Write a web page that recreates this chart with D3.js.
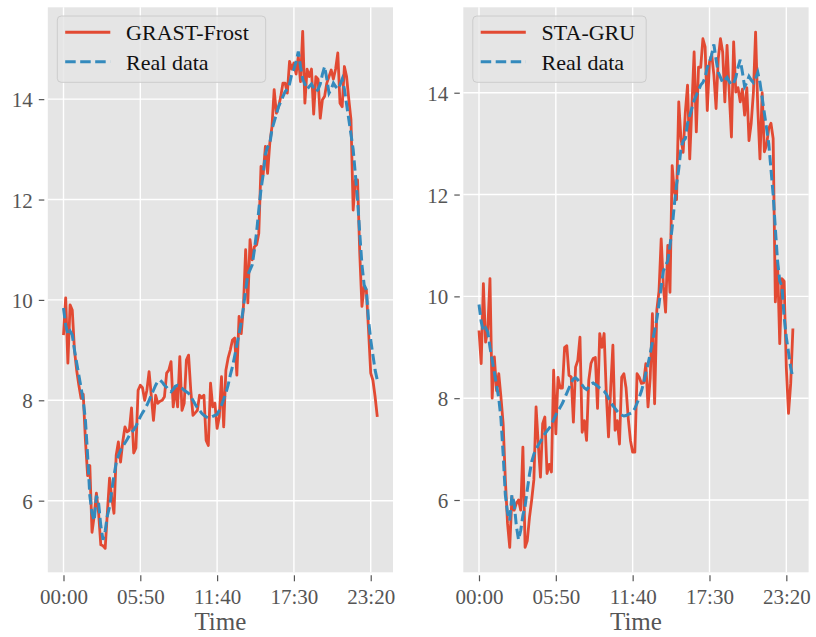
<!DOCTYPE html>
<html>
<head>
<meta charset="utf-8">
<script src="https://cdn.jsdelivr.net/npm/d3@7"></script>
<style>
  html, body { margin: 0; padding: 0; background: #ffffff; }
  svg { display: block; }
  text { font-family: "Liberation Serif", "DejaVu Serif", serif; }
</style>
</head>
<body>
<script>
// ---------- data (10-minute steps, index 0 = 00:00) ----------
const timeTickIndex = [0, 35, 70, 105, 140];
const timeTickLabels = ["00:00", "05:50", "11:40", "17:30", "23:20"];
const yTickValues = [6, 8, 10, 12, 14];

const realData = [
  9.84, 9.5, 9.32, 9.38, 9.3, 9.0, 8.75, 8.5, 8.25, 8.0,
  7.6, 6.9, 6.1, 5.75, 5.6, 6.1, 5.95, 5.5, 5.22, 5.4,
  5.7, 5.88, 6.2, 6.5, 6.75, 6.9, 7.0, 7.08, 7.15, 7.22,
  7.3, 7.36, 7.41, 7.48, 7.58, 7.67, 7.75, 7.82, 7.9, 8.0,
  8.1, 8.2, 8.3, 8.38, 8.4, 8.36, 8.3, 8.26, 8.2, 8.17,
  8.22, 8.28, 8.3, 8.27, 8.24, 8.2, 8.17, 8.14, 8.08, 8.0,
  7.92, 7.85, 7.8, 7.74, 7.7, 7.67, 7.65, 7.66, 7.68, 7.7,
  7.72, 7.8, 7.9, 8.02, 8.14, 8.3, 8.5, 8.67, 8.88, 9.1,
  9.33, 9.55, 9.85, 10.2, 10.5, 10.6, 10.7, 11.0, 11.35, 11.8,
  12.2, 12.5, 12.9, 13.05, 13.1, 13.4, 13.55, 13.7, 13.85, 13.95,
  14.05, 14.15, 14.2, 14.3, 14.5, 14.6, 14.75, 14.95, 14.65, 14.4,
  14.3, 14.2, 14.25, 14.3, 14.22, 14.15, 14.19, 14.3, 14.5, 14.65,
  14.4, 14.12, 14.2, 14.32, 14.25, 14.2, 14.28, 14.4, 14.2, 13.9,
  13.6, 13.3, 13.0, 12.5, 12.0, 11.33, 10.7, 10.3, 10.2, 9.6,
  9.2, 8.9, 8.6, 8.4
];

const grastFrost = [
  9.3, 10.04, 8.74, 9.9, 9.8, 9.0, 8.6, 8.3, 8.04, 8.12,
  7.2, 6.5, 6.7, 5.37, 5.7, 6.15, 5.75, 5.12, 5.1, 5.05,
  5.77, 6.45, 6.05, 5.75, 6.9, 7.17, 6.77, 7.17, 7.47, 7.37,
  7.4, 7.85, 6.95, 7.05, 8.2, 8.3, 8.25, 8.0, 8.2, 8.57,
  8.1, 7.6, 8.1, 7.94, 7.98, 8.0, 8.07, 8.54, 8.6, 8.77,
  7.87, 8.27, 7.87, 8.87, 7.8, 7.94, 8.8, 8.9, 8.2, 7.7,
  7.75, 7.8, 8.1, 8.05, 8.1, 7.2, 7.1, 8.34, 7.87, 7.94,
  7.44, 7.67, 8.47, 7.47, 8.6, 8.84, 9.0, 9.2, 9.24, 8.5,
  9.67, 9.33, 9.87, 11.0, 9.94, 11.2, 10.8, 11.06, 11.1, 11.33,
  12.66, 12.5, 13.06, 12.52, 13.12, 13.45, 14.19, 13.72, 13.85, 14.05,
  14.32, 14.32, 14.12, 14.75, 14.6, 14.72, 14.5, 14.85, 14.35, 15.35,
  13.92, 14.6, 14.45, 14.6, 13.7, 14.45, 14.4, 13.62, 13.99, 14.06,
  14.32, 14.45, 14.58, 14.4, 14.6, 14.92, 13.92, 13.85, 14.65, 14.45,
  14.0, 13.59, 11.79, 12.39, 12.39, 10.93, 9.87, 10.27, 10.2, 9.4,
  8.54, 8.4, 8.07, 7.67
];

const staGru = [
  9.33, 8.68, 10.25, 9.1, 9.35, 10.35, 8.0, 8.81, 8.15, 8.48,
  8.02, 7.5, 6.4, 5.54, 5.07, 6.06, 5.8, 5.93, 6.0, 5.8,
  7.04, 5.07, 5.2, 5.66, 6.0, 6.4, 7.83, 7.1, 6.45, 7.5,
  7.63, 6.52, 6.7, 6.55, 8.55, 7.3, 8.41, 8.2, 8.2, 9.0,
  9.03, 8.45, 8.42, 7.53, 8.61, 8.74, 9.2, 7.33, 7.56, 7.17,
  8.35, 8.68, 8.78, 8.8, 7.8, 9.27, 9.0, 9.27, 8.09, 7.24,
  8.2, 9.04, 7.37, 7.56, 7.1, 8.41, 8.48, 8.2, 7.6, 7.17,
  6.94, 6.94, 8.48, 8.41, 8.29, 8.3, 8.68, 7.83, 8.4, 9.66,
  7.89, 9.73, 10.1, 11.13, 10.2, 9.69, 11.0, 10.08, 12.57, 12.05,
  11.9, 13.82, 13.1, 12.83, 13.62, 14.15, 12.7, 13.75, 14.8, 13.23,
  14.5, 14.5, 15.06, 14.9, 13.65, 14.6, 14.75, 14.35, 13.69, 14.67,
  15.06, 14.8, 13.82, 14.93, 14.0, 13.13, 15.0, 14.01, 14.1, 13.82,
  14.07, 13.56, 14.1, 13.06, 13.4, 14.0, 15.19, 13.7, 12.7, 14.0,
  12.84, 12.97, 13.3, 13.4, 13.1, 9.89, 10.67, 9.07, 10.35, 10.3,
  8.6, 7.7, 8.29, 9.37
];

const modelNames = ["GRAST-Frost", "STA-GRU"];
const realLabel = "Real data";

// ---------- layout ----------
const W = 816, H = 637;
const plotTop = 7.3, plotBottom = 572.3;
const panels = [
  { name: modelNames[0], pred: grastFrost, xr: [47.8, 393.0], yd: [4.573, 15.83], legendW: 208.4 },
  { name: modelNames[1], pred: staGru,     xr: [463.3, 808.6], yd: [4.58, 15.678], legendW: 173.4 }
];
const RED = "#E24A33", BLUE = "#348ABD", BG = "#E5E5E5", TXT = "#555555";

const svg = d3.select("body").append("svg").attr("width", W).attr("height", H);
svg.append("rect").attr("width", W).attr("height", H).attr("fill", "#ffffff");

panels.forEach(p => {
  const x = d3.scaleLinear().domain([-7.15, 150.15]).range(p.xr);
  const y = d3.scaleLinear().domain(p.yd).range([plotBottom, plotTop]);
  const g = svg.append("g");
  const left = p.xr[0], right = p.xr[1];

  g.append("rect").attr("x", left).attr("y", plotTop)
    .attr("width", right - left).attr("height", plotBottom - plotTop).attr("fill", BG);

  // grid
  g.append("g").selectAll("line").data(timeTickIndex).join("line")
    .attr("x1", d => x(d)).attr("x2", d => x(d)).attr("y1", plotTop).attr("y2", plotBottom)
    .attr("stroke", "#ffffff").attr("stroke-width", 1.4);
  g.append("g").selectAll("line").data(yTickValues).join("line")
    .attr("x1", left).attr("x2", right).attr("y1", d => y(d)).attr("y2", d => y(d))
    .attr("stroke", "#ffffff").attr("stroke-width", 1.4);

  // lines
  const line = d3.line().x((d, i) => x(i)).y(d => y(d));
  g.append("path").datum(p.pred).attr("d", line).attr("fill", "none")
    .attr("stroke", RED).attr("stroke-width", 2.8).attr("stroke-linejoin", "round");
  g.append("path").datum(realData).attr("d", line).attr("fill", "none")
    .attr("stroke", BLUE).attr("stroke-width", 3).attr("stroke-dasharray", "10.5,4.5");

  // x axis
  const xAxis = d3.axisBottom(x).tickValues(timeTickIndex)
    .tickFormat((d, i) => timeTickLabels[i]).tickSize(6).tickPadding(7.8);
  const gx = g.append("g").attr("transform", `translate(0,${plotBottom + 3})`).call(xAxis);
  gx.select(".domain").remove();
  gx.selectAll("line").attr("stroke", TXT).attr("stroke-width", 1.2);
  gx.selectAll("text").attr("fill", TXT).style("font-size", "21px")
    .style("font-family", '"Liberation Serif", serif');

  // y axis
  const yAxis = d3.axisLeft(y).tickValues(yTickValues).tickSize(5.5).tickPadding(6);
  const gy = g.append("g").attr("transform", `translate(${left - 3.5},0)`).call(yAxis);
  gy.select(".domain").remove();
  gy.selectAll("line").attr("stroke", TXT).attr("stroke-width", 1.2);
  gy.selectAll("text").attr("fill", TXT).attr("dy", "0.36em").style("font-size", "21px")
    .style("font-family", '"Liberation Serif", serif');

  // x label
  g.append("text").attr("x", (left + right) / 2).attr("y", 630)
    .attr("text-anchor", "middle").attr("fill", TXT).style("font-size", "25px").text("Time");

  // legend
  const lg = g.append("g");
  lg.append("rect").attr("x", left + 9.5).attr("y", 16).attr("width", p.legendW).attr("height", 66.3)
    .attr("rx", 4).attr("fill", BG).attr("fill-opacity", 0.8)
    .attr("stroke", "#cccccc").attr("stroke-width", 1);
  const items = [
    { label: p.name, color: RED, dash: null, ly: 32.3 },
    { label: realLabel, color: BLUE, dash: "10.5,4.5", ly: 61.7 }
  ];
  items.forEach(it => {
    lg.append("line").attr("x1", left + 17.4).attr("x2", left + 62.5)
      .attr("y1", it.ly).attr("y2", it.ly)
      .attr("stroke", it.color).attr("stroke-width", 3)
      .attr("stroke-dasharray", it.dash);
    lg.append("text").attr("x", left + 78.3).attr("y", it.ly + 7.8)
      .attr("fill", "#111111").style("font-size", "22px").text(it.label);
  });
});
</script>
</body>
</html>
